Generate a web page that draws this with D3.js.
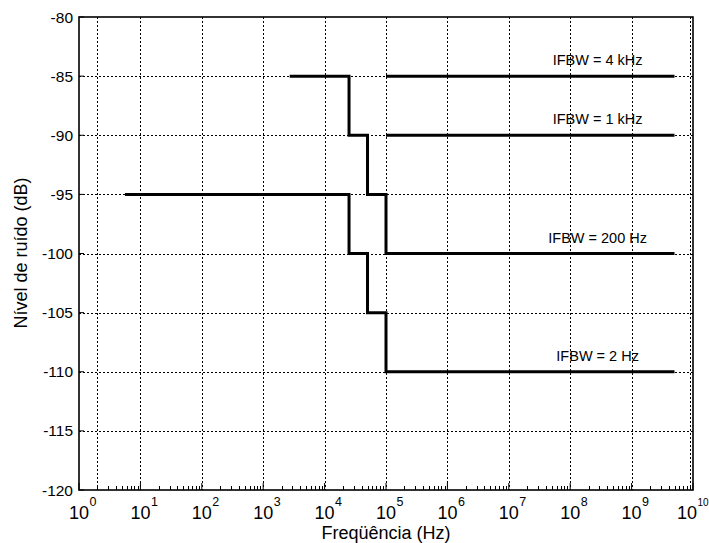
<!DOCTYPE html>
<html><head><meta charset="utf-8">
<script src="https://cdn.jsdelivr.net/npm/d3@7"></script>
<style>body{margin:0;background:#fff}svg{display:block}text{font-family:"Liberation Sans",Arial,sans-serif;fill:#000}</style>
</head><body>
<svg id="c" width="709" height="543"></svg>
<script>
// Data
const stepUpperFreq  = [2.7e3, 2.5e4, 2.5e4, 5e4, 5e4, 1e5, 1e5, 5e9];
const stepUpperLevel = [-85, -85, -90, -90, -95, -95, -100, -100];
const stepLowerFreq  = [5.6, 2.5e4, 2.5e4, 5e4, 5e4, 1e5, 1e5, 5e9];
const stepLowerLevel = [-95, -95, -100, -100, -105, -105, -110, -110];
const flat4kFreq  = [1e5, 5e9];
const flat4kLevel = [-85, -85];
const flat1kFreq  = [1e5, 5e9];
const flat1kLevel = [-90, -90];
const labelTexts  = ["IFBW = 4 kHz", "IFBW = 1 kHz", "IFBW = 200 Hz", "IFBW = 2 Hz"];
const labelLevels = [-85, -90, -100, -110];
const labelFreq   = 2.8e8;
const xTickExps   = [0,1,2,3,4,5,6,7,8,9,10];
const xGridFreqs  = [2, 1e1, 1e2, 1e3, 1e4, 1e5, 1e6, 1e7, 1e8, 1e9, 9e9];
const yTicks      = [-120,-115,-110,-105,-100,-95,-90,-85,-80];

const W = 709, H = 543, m = {l:79, t:17, r:16, b:53};
const svg = d3.select("#c");
const x = d3.scaleLog().domain([1, 1e10]).range([m.l, W - m.r]);
const y = d3.scaleLinear().domain([-120, -80]).range([H - m.b, m.t]);

// grid
const g = svg.append("g");
g.selectAll(".vg").data(xGridFreqs).enter().append("line")
  .attr("x1", d => Math.round(x(d)) + 0.5).attr("x2", d => Math.round(x(d)) + 0.5)
  .attr("y1", y(-80)).attr("y2", y(-120))
  .attr("stroke", "#000").attr("stroke-width", 1).attr("stroke-dasharray", "2,2");
g.selectAll(".hg").data(yTicks.filter(d => d > -120 && d < -80)).enter().append("line")
  .attr("y1", d => Math.round(y(d)) + 0.5).attr("y2", d => Math.round(y(d)) + 0.5)
  .attr("x1", x(1)).attr("x2", x(1e10))
  .attr("stroke", "#000").attr("stroke-width", 1).attr("stroke-dasharray", "2,2");

// minor ticks on bottom
const minor = [];
for (let e = 0; e < 10; e++) for (let k = 2; k <= 9; k++) minor.push(k * Math.pow(10, e));
g.selectAll(".mt").data(minor).enter().append("line")
  .attr("x1", d => Math.round(x(d)) + 0.5).attr("x2", d => Math.round(x(d)) + 0.5)
  .attr("y1", y(-120)).attr("y2", y(-120) - 4)
  .attr("stroke", "#000").attr("stroke-width", 1);
g.selectAll(".Mt").data(xTickExps).enter().append("line")
  .attr("x1", d => x(Math.pow(10, d))).attr("x2", d => x(Math.pow(10, d)))
  .attr("y1", y(-120)).attr("y2", y(-120) - 7)
  .attr("stroke", "#000").attr("stroke-width", 1);
g.selectAll(".yt").data(yTicks).enter().append("line")
  .attr("y1", d => y(d)).attr("y2", d => y(d))
  .attr("x1", x(1)).attr("x2", x(1) + 5)
  .attr("stroke", "#000").attr("stroke-width", 1);

// frame
svg.append("rect").attr("x", x(1)).attr("y", y(-80))
  .attr("width", x(1e10) - x(1)).attr("height", y(-120) - y(-80))
  .attr("fill", "none").attr("stroke", "#000").attr("stroke-width", 1.6);

// lines
const line = d3.line().x(d => x(d[0])).y(d => y(d[1]));
const series = [[stepUpperFreq, stepUpperLevel], [stepLowerFreq, stepLowerLevel],
                [flat4kFreq, flat4kLevel], [flat1kFreq, flat1kLevel]];
series.forEach(([f, l]) => {
  svg.append("path").datum(f.map((v, i) => [v, l[i]]))
    .attr("d", line).attr("fill", "none").attr("stroke", "#000")
    .attr("stroke-width", 3).attr("stroke-linejoin", "miter").attr("stroke-linecap", "butt");
});

// labels
labelTexts.forEach((t, i) => {
  svg.append("text").attr("x", x(labelFreq)).attr("y", y(labelLevels[i]) - 11)
    .attr("text-anchor", "middle").attr("font-size", 14.5).text(t);
});

// y tick labels
svg.selectAll(".yl").data(yTicks).enter().append("text")
  .attr("x", x(1) - 6).attr("y", d => y(d) + 5.5)
  .attr("text-anchor", "end").attr("font-size", 15.5).text(d => d);

// x tick labels
xTickExps.forEach(e => {
  const cx = x(Math.pow(10, e));
  const base = svg.append("text").attr("y", 519).attr("font-size", 18).text("10");
  const sup = svg.append("text").attr("y", 506).text(e);
  if (e === 10) {
    base.attr("x", cx + 4).attr("text-anchor", "end");
    sup.attr("x", cx + 4.5).attr("text-anchor", "start").attr("font-size", 10);
  } else {
    base.attr("x", cx).attr("text-anchor", "middle");
    sup.attr("x", cx + 10.5).attr("text-anchor", "start").attr("font-size", 12.5);
  }
});

// titles
svg.append("text").attr("x", 386).attr("y", 539).attr("text-anchor", "middle")
  .attr("font-size", 18).text("Freqüência (Hz)");
svg.append("text").attr("transform", "translate(27,253) rotate(-90)")
  .attr("text-anchor", "middle").attr("font-size", 18).text("Nível de ruído (dB)");
</script>
</body></html>
